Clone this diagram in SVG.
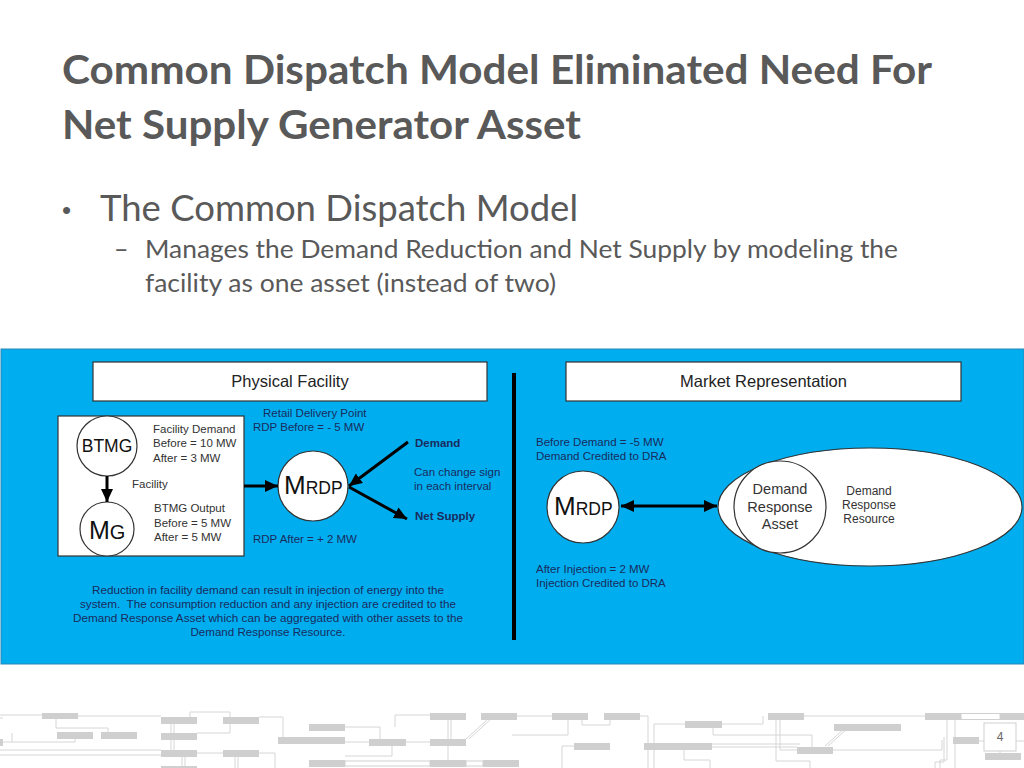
<svg xmlns="http://www.w3.org/2000/svg" width="1024" height="768" viewBox="0 0 1024 768">
<defs>
<style>
.title{font-family:Lato,"Open Sans","Liberation Sans",sans-serif;font-weight:bold;font-size:41px;fill:#595959}
.b1{font-family:Lato,"Open Sans","Liberation Sans",sans-serif;font-size:36px;fill:#595959}
.b2{font-family:Lato,"Open Sans","Liberation Sans",sans-serif;font-size:25px;fill:#595959}
.d{font-family:"Liberation Sans",Arial,sans-serif;fill:#1a2b5e;font-size:11.5px}
.k{font-family:"Liberation Sans",Arial,sans-serif;fill:#333333;font-size:11.5px}
.drr{font-family:"Liberation Sans",Arial,sans-serif;fill:#333333;font-size:12px;text-anchor:middle}
.dra{font-family:"Liberation Sans",Arial,sans-serif;fill:#333333;font-size:14.5px;text-anchor:middle}
.bd{font-weight:bold}
.hdr{font-family:"Liberation Sans",Arial,sans-serif;fill:#222;font-size:16.5px;text-anchor:middle}
.big{font-family:"Liberation Sans",Arial,sans-serif;fill:#111}
.node{fill:#fff;stroke:#333;stroke-width:1.2}
.conn{stroke:#000;stroke-width:3;fill:none}
.cr{fill:#cfcfcf}
.cl{stroke:#d6d6d6;stroke-width:1;fill:none}
.co{fill:#fff;stroke:#d0d0d0;stroke-width:1}
</style>
<marker id="ah" markerUnits="userSpaceOnUse" markerWidth="13" markerHeight="12" refX="13" refY="6" orient="auto-start-reverse">
<path d="M0,0 L13,6 L0,12 z" fill="#000"/>
</marker>
</defs>
<rect width="1024" height="768" fill="#fff"/>

<!-- circuit decoration -->
<g id="decoration">
<g class="cl">
<path d="M0,715 H42 M78,716 H161 M56,719 V728 H108 V732 M3,742 H75 V739 M0,750 H161 M0,755 H161 M190,717 V712 H230 V733 H197 M259,717 H283 V737 M171,719 V733 M174,719 V733 M171,740 V750 M174,740 V750 M197,753 H223 M259,753 H275 V768 M182,757 V768 M185,757 V768 M235,757 V768 M238,757 V768 M345,742 H369 M345,727 H380 V739 M406,742 H430 M395,727 V715 H430 M392,745 V756 H345 M448,719 V760 M451,719 V739 M466,739 L488,719 M469,739 L491,719 M12,733 V742 M0,718 H3"/>
<path d="M517,716 H552 M512,735 H568 V720 M582,720 V725 H610 V720 M640,716 H648 V768 M654,768 V724 H685 M722,724 H763 V716 M713,728 V735 H812 V747 M562,768 V746 H574 M712,744 H800 M712,747 H797 M684,750 V760 H710 V768 M804,716 H925 M776,720 V761 H810 V768 M780,720 V750 H797 M825,746 L845,728 M828,746 L848,728 M833,750 H942 V740 M947,720 V760 H940 V768 M944,737 V762 H935 V768 M979,741 H984 M1016,741 H1024 M1000,751 V753 M955,720 V768"/>
</g>
<g class="cr">
<rect x="42" y="713" width="36" height="6"/>
<rect x="57" y="732" width="36" height="7"/>
<rect x="101" y="732" width="36" height="7"/>
<rect x="161" y="717" width="36" height="7"/>
<rect x="161" y="733" width="36" height="7"/>
<rect x="161" y="750" width="36" height="7"/>
<rect x="161" y="766" width="36" height="2"/>
<rect x="223" y="717" width="36" height="7"/>
<rect x="223" y="750" width="36" height="7"/>
<rect x="309" y="724" width="36" height="7"/>
<rect x="278" y="737" width="67" height="7"/>
<rect x="369" y="739" width="37" height="7"/>
<rect x="309" y="760" width="36" height="7"/>
<rect x="430" y="713" width="36" height="7"/>
<rect x="481" y="713" width="36" height="7"/>
<rect x="430" y="739" width="36" height="7"/>
<rect x="430" y="760" width="36" height="7"/>
<rect x="483" y="760" width="36" height="7"/>
<rect x="0" y="739" width="3" height="7"/>
<rect x="552" y="713" width="36" height="7"/>
<rect x="604" y="713" width="36" height="7"/>
<rect x="685" y="721" width="37" height="7"/>
<rect x="574" y="743" width="36" height="7"/>
<rect x="644" y="743" width="68" height="7"/>
<rect x="768" y="713" width="36" height="7"/>
<rect x="834" y="724" width="67" height="7"/>
<rect x="797" y="747" width="36" height="7"/>
<rect x="925" y="713" width="36" height="7"/>
<rect x="1000" y="713" width="24" height="7"/>
<rect x="953" y="737" width="26" height="7"/>
<rect x="985" y="753" width="36" height="7"/>
</g>
<rect class="co" x="961" y="713.5" width="39" height="6"/>
<rect class="co" x="345" y="761" width="85" height="5"/>
<rect class="co" x="466" y="761" width="17" height="5"/>
</g>

<!-- page number -->
<g id="page-number">
<rect x="984" y="723" width="32" height="28" fill="#fff" stroke="#cfcfcf" stroke-width="1"/>
<text x="1000" y="741" text-anchor="middle" font-family="'Liberation Sans',Arial,sans-serif" font-size="12" fill="#666">4</text>
</g>

<!-- title and bullets -->
<g id="title">
<text class="title" x="62" y="84" textLength="870" lengthAdjust="spacingAndGlyphs">Common Dispatch Model Eliminated Need For</text>
<text class="title" x="62" y="139" textLength="519" lengthAdjust="spacingAndGlyphs">Net Supply Generator Asset</text>
</g>
<g id="bullets">
<text x="62" y="219" font-family="'Liberation Sans',Arial,sans-serif" font-size="26" fill="#595959">•</text>
<text class="b1" x="100" y="221" textLength="478" lengthAdjust="spacingAndGlyphs">The Common Dispatch Model</text>
<text class="b2" x="114" y="258">–</text>
<text class="b2" x="145" y="258" textLength="753" lengthAdjust="spacingAndGlyphs">Manages the Demand Reduction and Net Supply by modeling the</text>
<text class="b2" x="145" y="292" textLength="411" lengthAdjust="spacingAndGlyphs">facility as one asset (instead of two)</text>
</g>

<!-- blue panel -->
<rect id="panel" x="1" y="349" width="1023" height="315" fill="#00AEEF" stroke="#2a86b8" stroke-width="1"/>

<g id="physical-facility-header">
<rect x="93" y="362" width="394" height="39" fill="#fff" stroke="#333" stroke-width="1.2"/>
<text class="hdr" x="290" y="387">Physical Facility</text>
</g>
<g id="market-representation-header">
<rect x="566" y="362" width="395" height="39" fill="#fff" stroke="#333" stroke-width="1.2"/>
<text class="hdr" x="763.5" y="387">Market Representation</text>
</g>

<line id="divider" x1="514" y1="373" x2="514" y2="640" stroke="#000" stroke-width="4"/>

<g id="facility">
<rect x="58" y="416" width="186" height="140" fill="#fff" stroke="#333" stroke-width="1.2"/>
<text class="k" x="132" y="488">Facility</text>
<text class="k" x="153" y="433">Facility Demand</text>
<text class="k" x="153" y="447">Before = 10 MW</text>
<text class="k" x="153" y="462">After = 3 MW</text>
<text class="k" x="154" y="512">BTMG Output</text>
<text class="k" x="154" y="527">Before = 5 MW</text>
<text class="k" x="154" y="541">After = 5 MW</text>
</g>

<g id="btmg">
<circle class="node" cx="107" cy="446" r="30"/>
<text class="big" x="107" y="452" font-size="17.5" text-anchor="middle">BTMG</text>
</g>

<g id="mg">
<circle class="node" cx="107" cy="529" r="27"/>
<text class="big" x="89" y="539"><tspan font-size="25">M</tspan><tspan font-size="20">G</tspan></text>
</g>

<g id="mrdp-physical">
<circle class="node" cx="313" cy="486" r="35"/>
<text class="big" x="284" y="494"><tspan font-size="26">M</tspan><tspan font-size="17.5">RDP</tspan></text>
</g>

<g id="rdp-labels">
<text class="d" x="263" y="417">Retail Delivery Point</text>
<text class="d" x="253" y="431">RDP Before = - 5 MW</text>
<text class="d" x="253" y="543">RDP After = + 2 MW</text>
<text class="d bd" x="415" y="447">Demand</text>
<text class="d" x="414" y="476">Can change sign</text>
<text class="d" x="414" y="490">in each interval</text>
<text class="d bd" x="415" y="520">Net Supply</text>
</g>

<g id="note">
<text class="d" x="268" y="594" text-anchor="middle" textLength="352" lengthAdjust="spacingAndGlyphs">Reduction in facility demand can result in injection of energy into the</text>
<text class="d" x="268" y="608" text-anchor="middle" textLength="376" lengthAdjust="spacingAndGlyphs" xml:space="preserve">system.  The consumption reduction and any injection are credited to the</text>
<text class="d" x="268" y="622" text-anchor="middle" textLength="390" lengthAdjust="spacingAndGlyphs">Demand Response Asset which can be aggregated with other assets to the</text>
<text class="d" x="268" y="636" text-anchor="middle" textLength="155" lengthAdjust="spacingAndGlyphs">Demand Response Resource.</text>
</g>

<g id="market-labels">
<text class="d" x="536" y="446">Before Demand = -5 MW</text>
<text class="d" x="536" y="460">Demand Credited to DRA</text>
<text class="d" x="536" y="573">After Injection = 2 MW</text>
<text class="d" x="536" y="587">Injection Credited to DRA</text>
</g>

<g id="mrdp-market">
<circle class="node" cx="583" cy="507" r="36"/>
<text class="big" x="554" y="515"><tspan font-size="26">M</tspan><tspan font-size="17.5">RDP</tspan></text>
</g>

<g id="demand-response-resource">
<ellipse cx="870" cy="507" rx="152" ry="59" fill="#fff" stroke="#333" stroke-width="1.2"/>
<text class="drr" x="869" y="495">Demand</text>
<text class="drr" x="869" y="509">Response</text>
<text class="drr" x="869" y="523">Resource</text>
</g>

<g id="demand-response-asset">
<circle class="node" cx="780" cy="507" r="46"/>
<text class="dra" x="780" y="494">Demand</text>
<text class="dra" x="780" y="512">Response</text>
<text class="dra" x="780" y="529">Asset</text>
</g>

<g id="connectors">
<line class="conn" x1="107" y1="476" x2="107" y2="502" marker-end="url(#ah)"/>
<line class="conn" x1="244" y1="486" x2="278" y2="486" marker-end="url(#ah)"/>
<line class="conn" x1="408" y1="442" x2="349" y2="486" marker-end="url(#ah)"/>
<line class="conn" x1="349" y1="487" x2="407" y2="519" marker-end="url(#ah)"/>
<line class="conn" x1="621" y1="506" x2="717" y2="506" marker-start="url(#ah)" marker-end="url(#ah)"/>
</g>
</svg>
